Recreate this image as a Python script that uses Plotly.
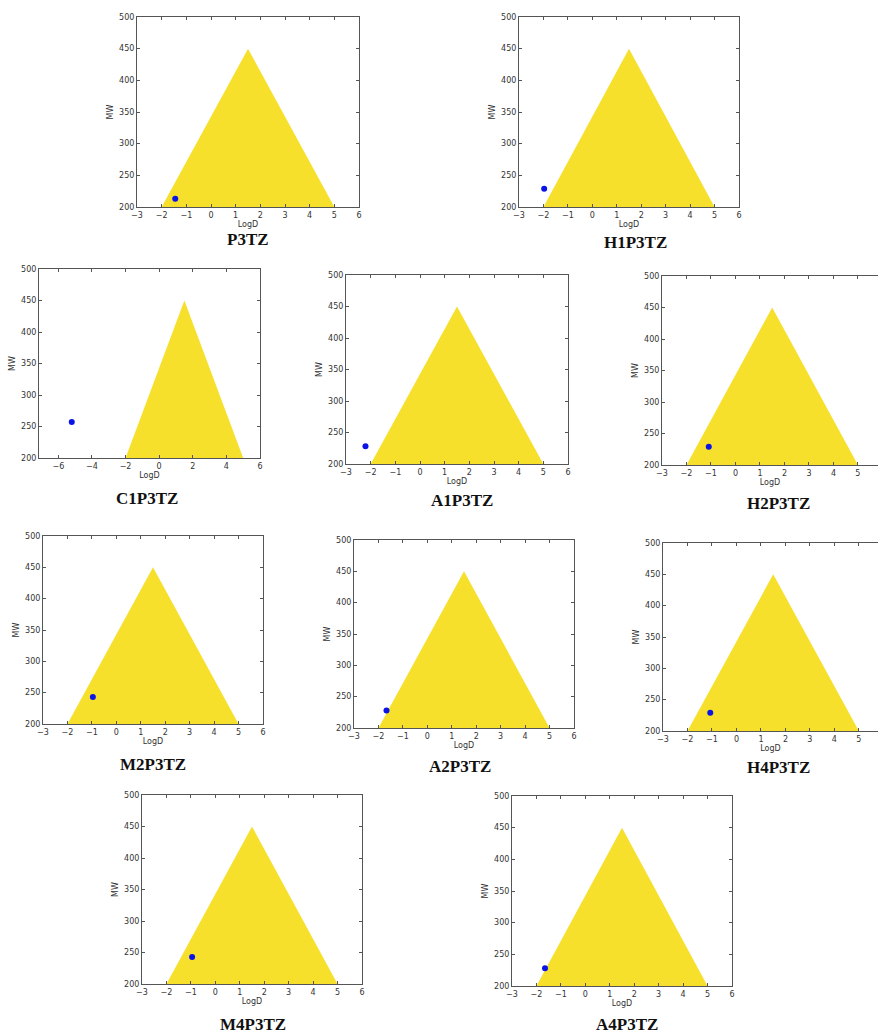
import plotly.graph_objects as go

# ---- data ----
panel_names = ["P3TZ", "H1P3TZ", "C1P3TZ", "A1P3TZ", "H2P3TZ",
               "M2P3TZ", "A2P3TZ", "H4P3TZ", "M4P3TZ", "A4P3TZ"]
point_logd = [-1.45, -1.97, -5.2, -2.21, -1.09, -0.96, -1.67, -1.07, -0.95, -1.65]
point_mw = [213, 229, 257, 228, 229, 243, 228, 229, 243, 228]
triangle_logd = [-2, 1.5, 5, -2]
triangle_mw = [200, 450, 200, 200]
y_ticks = [200, 250, 300, 350, 400, 450, 500]

# ---- layout (pixel boxes of each plot area: left, right, top, bottom) ----
W, H = 878, 1034
boxes = [
    (137, 359, 17, 207),
    (519, 739, 17, 207),
    (39, 260, 269, 458),
    (346, 568, 275, 464),
    (662, 878, 276, 465),
    (43, 263, 536, 724),
    (354, 574, 540, 728),
    (663, 878, 543, 731),
    (142, 362, 795, 984),
    (512, 732, 796, 986),
]
x_ranges = [[-3, 6], [-3, 6], [-7.15, 6], [-3, 6], [-3, 5.82],
            [-3, 6], [-3, 6], [-3, 5.78], [-3, 6], [-3, 6]]
title_pos = [(248, 240), (635, 243), (147, 499), (462, 500), (778, 503),
             (153, 764), (460, 766), (778, 767), (253, 1024), (627, 1024)]
clipped = [False, False, False, False, True, False, False, True, False, False]

fig = go.Figure()
axis_font = dict(family="DejaVu Sans", size=8, color="#333")
line_col = "#555"

for i, name in enumerate(panel_names):
    n = "" if i == 0 else str(i + 1)
    xa, ya = "x" + n, "y" + n
    fig.add_trace(go.Scatter(x=triangle_logd, y=triangle_mw, mode="lines",
                             fill="toself", fillcolor="#F6E02C",
                             line=dict(width=0, color="#F6E02C"),
                             hoverinfo="skip", showlegend=False,
                             xaxis=xa, yaxis=ya))
    fig.add_trace(go.Scatter(x=[point_logd[i]], y=[point_mw[i]], mode="markers",
                             marker=dict(color="#0A14E6", size=6),
                             showlegend=False, xaxis=xa, yaxis=ya))
    l, r, t, b = boxes[i]
    xr = x_ranges[i]
    if xr[0] < -5:
        xt = [-6, -4, -2, 0, 2, 4, 6]
    else:
        xt = list(range(-3, 7))
    fig.layout["xaxis" + n] = dict(
        domain=[l / W, r / W], range=xr, anchor=ya, automargin=False,
        tickvals=xt, ticks="inside", ticklen=3, tickcolor=line_col,
        showline=True, linecolor=line_col, linewidth=1,
        mirror="ticks", showgrid=False, zeroline=False,
        tickfont=axis_font,
        title=dict(text="LogD", font=axis_font, standoff=2),
    )
    fig.layout["yaxis" + n] = dict(
        domain=[1 - b / H, 1 - t / H], range=[200, 500], anchor=xa, automargin=False,
        tickvals=y_ticks, ticks="inside", ticklen=3, tickcolor=line_col,
        showline=True, linecolor=line_col, linewidth=1,
        mirror=False if clipped[i] else "ticks",
        showgrid=False, zeroline=False,
        tickfont=axis_font,
        title=dict(text="MW", font=axis_font, standoff=4),
    )
    tx, ty = title_pos[i]
    fig.add_annotation(text="<b>" + name + "</b>", x=tx / W, y=1 - ty / H,
                       xref="paper", yref="paper", showarrow=False,
                       font=dict(family="Liberation Serif", size=17, color="#111"),
                       xanchor="center", yanchor="middle")

fig.update_layout(template="none", width=W, height=H,
                  margin=dict(l=0, r=0, t=0, b=0, autoexpand=False),
                  paper_bgcolor="white", plot_bgcolor="white")
fig.write_html("out.html", config={"displayModeBar": False},
               post_script="document.body.style.margin='0';document.body.style.padding='0';document.body.style.overflow='hidden';")
